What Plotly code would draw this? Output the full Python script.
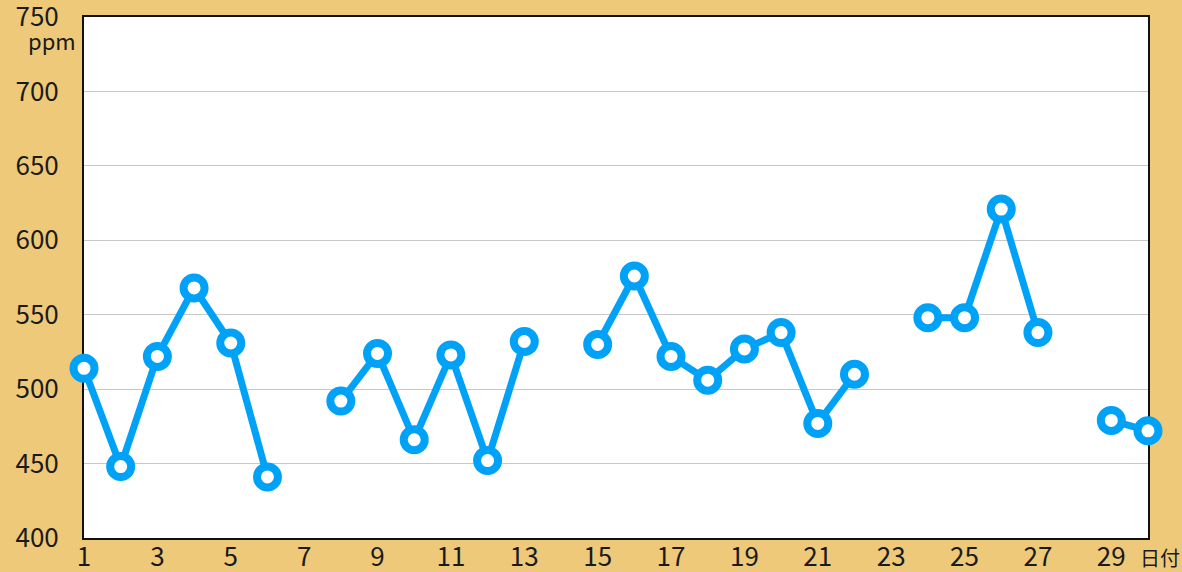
import plotly.graph_objects as go

days = list(range(1, 31))
ppm = [514, 448, 522, 568, 531, 441, None, 492, 524, 466, 523, 452, 532, None,
       530, 576, 522, 506, 527, 538, 477, 510, None, 548, 548, 621, 538, None, 479, 472]
x_ticks = list(range(1, 30, 2))
y_ticks = [400, 450, 500, 550, 600, 650, 700, 750]

BLUE = "#00A2F7"
TAN = "#EDC979"
FONT = "Noto Sans CJK JP"

fig = go.Figure()
fig.add_trace(go.Scatter(
    x=days, y=ppm, mode="lines+markers",
    connectgaps=False, cliponaxis=False,
    line=dict(color=BLUE, width=7),
    marker=dict(size=21, color="white", line=dict(color=BLUE, width=8)),
    hoverinfo="x+y",
))

fig.update_layout(
    template="none",
    width=1182, height=572,
    margin=dict(l=84, r=34, t=17, b=34, pad=0),
    paper_bgcolor=TAN, plot_bgcolor="white",
    showlegend=False,
    font=dict(family=FONT, size=26, color="#1a1a1a"),
    xaxis=dict(range=[1, 30], tickvals=x_ticks, ticktext=[str(v) for v in x_ticks],
               showgrid=False, zeroline=False, showline=True, linecolor="#111",
               linewidth=2, mirror=True, ticks="", layer="below traces",
               automargin=False, tickfont=dict(size=26), ticklabelstandoff=-5,
               ticklabeloverflow="allow"),
    yaxis=dict(range=[400, 750], tickvals=y_ticks, showgrid=True, gridcolor="#C8C8C8",
               gridwidth=1, zeroline=False, showline=True, linecolor="#111",
               linewidth=2, mirror=True, ticks="", layer="below traces",
               automargin=False, tickfont=dict(size=26), ticklabelstandoff=18,
               ticklabeloverflow="allow"),
    annotations=[
        dict(text="ppm", xref="paper", yref="paper", x=-0.030, y=0.956,
             xanchor="center", yanchor="middle", showarrow=False,
             font=dict(size=22, family=FONT, color="#1a1a1a")),
        dict(text="日付", xref="paper", yref="paper", x=1.011, y=-0.038,
             xanchor="center", yanchor="middle", showarrow=False,
             font=dict(size=20, family=FONT, color="#1a1a1a")),
    ],
)

fig.write_html("out.html", config={"displayModeBar": False},
               post_script="document.body.style.margin='0';document.body.style.overflow='hidden';")
